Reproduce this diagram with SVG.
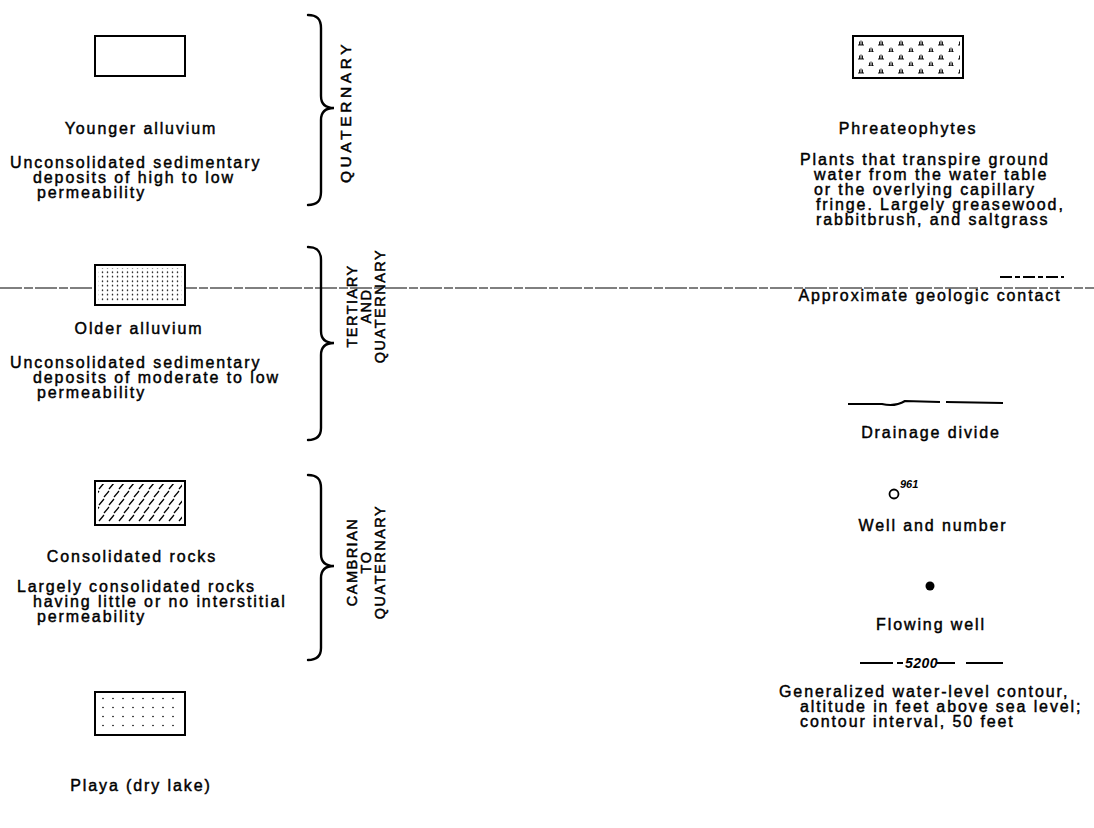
<svg xmlns="http://www.w3.org/2000/svg" width="1094" height="828" viewBox="0 0 1094 828">
<style>
.t{font-family:"Liberation Sans",Arial,sans-serif;font-size:16px;letter-spacing:1.9px;fill:#000;stroke:#000;stroke-width:0.45}
.c{text-anchor:middle}
.v{font-family:"Liberation Sans",Arial,sans-serif;font-size:14.5px;letter-spacing:1.5px;fill:#000;stroke:#000;stroke-width:0.5;text-anchor:middle}
.box{fill:#fff;stroke:#000;stroke-width:2}
.brace{fill:none;stroke:#000;stroke-width:2.4;stroke-linecap:round}
.sym{fill:none;stroke:#000;stroke-width:2.2}
</style>
<defs>
<pattern id="dots" patternUnits="userSpaceOnUse" width="5" height="4.5"><circle cx="2.5" cy="2.2" r="0.75" fill="#000"/></pattern>
<pattern id="sparse" patternUnits="userSpaceOnUse" width="10" height="9" x="98" y="694"><circle cx="5" cy="4.5" r="0.8" fill="#000"/></pattern>
<pattern id="slash" patternUnits="userSpaceOnUse" width="10" height="16" x="97" y="482"><path d="M2,7 L7,1 M7,15 L12,9 M-3,15 L2,9" stroke="#000" stroke-width="1.3"/></pattern>
<pattern id="tuft" patternUnits="userSpaceOnUse" width="20" height="14" x="855" y="38"><path d="M3,7 L9,7 M4.5,7 V3.5 M6,7 V2.5 M7.5,7 V3.5 M13,14 L19,14 M14.5,14 V10.5 M16,14 V9.5 M17.5,14 V10.5" stroke="#000" stroke-width="0.9"/></pattern>
</defs>

<g id="artifact-line"><line x1="0" y1="288" x2="1094" y2="288" stroke="#000" stroke-width="1" stroke-dasharray="22 2 9 2"/></g>

<g id="younger-alluvium">
<rect class="box" x="95" y="36" width="90" height="40"/>
<text class="t c" x="141" y="134">Younger alluvium</text>
<text class="t" x="10" y="168">Unconsolidated sedimentary</text>
<text class="t" x="33" y="183">deposits of high to low</text>
<text class="t" x="37" y="198">permeability</text>
</g>

<g id="older-alluvium">
<rect class="box" x="95" y="265" width="90" height="40"/>
<rect x="98" y="268" width="84" height="34" fill="url(#dots)"/>
<text class="t c" x="139" y="334">Older alluvium</text>
<text class="t" x="10" y="368">Unconsolidated sedimentary</text>
<text class="t" x="33" y="383">deposits of moderate to low</text>
<text class="t" x="37" y="398">permeability</text>
</g>

<g id="consolidated-rocks">
<rect class="box" x="95" y="481" width="90" height="44"/>
<rect x="98" y="484" width="84" height="38" fill="url(#slash)"/>
<text class="t c" x="132" y="562">Consolidated rocks</text>
<text class="t" x="17" y="592">Largely consolidated rocks</text>
<text class="t" x="33" y="607">having little or no interstitial</text>
<text class="t" x="37" y="622">permeability</text>
</g>

<g id="playa">
<rect class="box" x="95" y="692" width="90" height="43"/>
<rect x="98" y="695" width="84" height="37" fill="url(#sparse)"/>
<text class="t c" x="141" y="791">Playa (dry lake)</text>
</g>

<g id="age-quaternary">
<path class="brace" d="M308,15 C316,15 321,18 321,28 L321,96 C321,104 325,108 334,108 C325,108 321,112 321,120 L321,192 C321,202 316,205 308,205"/>
<text class="v" transform="translate(351,112) rotate(-90)" style="font-size:15.5px;letter-spacing:3.6px">QUATERNARY</text>
</g>

<g id="age-tertiary-quaternary">
<path class="brace" d="M308,247 C316,247 321,250 321,260 L321,331 C321,339 325,343 334,343 C325,343 321,347 321,355 L321,428 C321,437 316,440 308,440"/>
<text class="v" transform="translate(357,306) rotate(-90)">TERTIARY</text>
<text class="v" transform="translate(371,306) rotate(-90)">AND</text>
<text class="v" transform="translate(385,306) rotate(-90)">QUATERNARY</text>
</g>

<g id="age-cambrian-quaternary">
<path class="brace" d="M308,475 C316,475 321,478 321,488 L321,554 C321,562 325,566 334,566 C325,566 321,570 321,578 L321,648 C321,657 316,660 308,660"/>
<text class="v" transform="translate(357,562) rotate(-90)">CAMBRIAN</text>
<text class="v" transform="translate(371,562) rotate(-90)">TO</text>
<text class="v" transform="translate(385,562) rotate(-90)">QUATERNARY</text>
</g>

<g id="phreatophytes">
<rect class="box" x="853" y="36" width="110" height="42"/>
<rect x="856" y="39" width="104" height="36" fill="url(#tuft)"/>
<text class="t c" x="908" y="134">Phreateophytes</text>
<text class="t" x="800" y="165">Plants that transpire ground</text>
<text class="t" x="814" y="180">water from the water table</text>
<text class="t" x="814" y="195">or the overlying capillary</text>
<text class="t" x="816" y="210">fringe. Largely greasewood,</text>
<text class="t" x="816" y="225">rabbitbrush, and saltgrass</text>
</g>

<g id="geologic-contact">
<line x1="1000" y1="277" x2="1064" y2="277" stroke="#000" stroke-width="2" stroke-dasharray="12 3 5 3"/>
<text class="t c" x="930" y="301">Approximate geologic contact</text>
</g>

<g id="drainage-divide">
<path class="sym" d="M848,404 L882,404 Q895,407 905,401 L940,402 M946,402 L1003,403"/>
<text class="t c" x="931" y="438">Drainage divide</text>
</g>

<g id="well">
<circle cx="894" cy="494" r="4.5" fill="none" stroke="#000" stroke-width="1.8"/>
<text x="900" y="488" style="font-family:'Liberation Sans',Arial,sans-serif;font-size:11px;font-style:italic;font-weight:bold">961</text>
<text class="t c" x="933" y="531">Well and number</text>
</g>

<g id="flowing-well">
<circle cx="930" cy="586" r="4.5" fill="#000"/>
<text class="t c" x="931" y="630">Flowing well</text>
</g>

<g id="contour">
<path class="sym" d="M860,663 H893 M897,663 H903 M937,663 H955 M966,663 H1003"/>
<text x="905" y="668" style="font-family:'Liberation Sans',Arial,sans-serif;font-size:14px;font-style:italic;font-weight:bold;letter-spacing:0.5px">5200</text>
<text class="t" x="779" y="697">Generalized water-level contour,</text>
<text class="t" x="800" y="712">altitude in feet above sea level;</text>
<text class="t" x="800" y="727">contour interval, 50 feet</text>
</g>
</svg>
